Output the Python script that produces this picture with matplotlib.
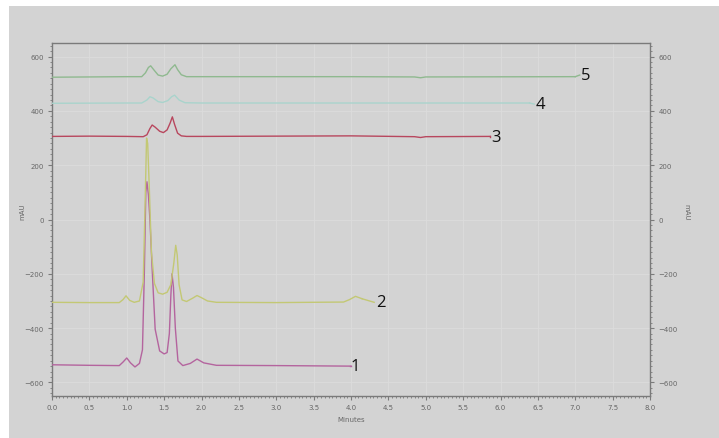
import numpy as np
import matplotlib.pyplot as plt
from matplotlib.ticker import MultipleLocator
from matplotlib.patches import Rectangle

# DATA (minutes vs mAU)
t1 = [0.0, 0.5, 0.9, 0.95, 1.0, 1.05, 1.11, 1.17, 1.21, 1.235, 1.255, 1.27, 1.29, 1.31,
      1.34, 1.38, 1.44, 1.50, 1.54, 1.57, 1.59, 1.605, 1.625, 1.65, 1.685, 1.75, 1.85,
      1.94, 2.03, 2.2, 3.0, 4.0]
v1 = [-535, -537, -538, -525, -510, -528, -543, -530, -480, -200, 100, 139, 90, 0,
      -183, -404, -484, -495, -490, -420, -280, -200, -250, -400, -521, -538, -530,
      -514, -528, -537, -538, -540]

t2 = [0.0, 0.5, 0.9, 0.95, 0.99, 1.04, 1.10, 1.17, 1.22, 1.245, 1.265, 1.28, 1.30, 1.33,
      1.37, 1.42, 1.48, 1.54, 1.59, 1.63, 1.655, 1.675, 1.70, 1.74, 1.80, 1.88, 1.94,
      2.0, 2.08, 2.2, 3.0, 3.9, 3.98, 4.06, 4.15]
v2 = [-305, -306, -306, -295, -281, -298, -305, -300, -230, 50, 300, 280, 130, -120,
      -235, -270, -275, -268, -240, -160, -95, -130, -240, -296, -302, -290, -280,
      -288, -300, -305, -306, -304, -295, -283, -292]

t3 = [0.0, 0.5, 1.0, 1.22, 1.27, 1.31, 1.34, 1.38, 1.44, 1.49, 1.54, 1.58, 1.61, 1.64,
      1.68, 1.73, 1.8, 2.0, 3.0, 4.0, 4.85, 4.93, 5.0, 5.86]
v3 = [306, 307, 306, 305, 312, 335, 348, 340, 325, 320, 330, 355, 378, 350,
      318, 308, 306, 306, 307, 308, 305, 302, 305, 306]

t4 = [0.0, 1.0, 1.2, 1.27, 1.31, 1.35, 1.42, 1.48, 1.55, 1.60, 1.64, 1.70, 1.78, 2.0,
      4.0, 6.39]
v4 = [428, 429, 429, 440, 452, 448, 434, 431, 438, 452, 458, 440, 430, 429,
      429, 429]

t5 = [0.0, 1.0, 1.2, 1.25, 1.29, 1.32, 1.36, 1.42, 1.48, 1.54, 1.59, 1.645, 1.68, 1.73,
      1.8, 2.0, 4.0, 4.85, 4.93, 5.0, 7.0]
v5 = [524, 526, 526, 540, 560, 566, 552, 532, 528, 535, 555, 570, 552, 533,
      526, 526, 526, 525, 522, 525, 526]

labels = ['1', '2', '3', '4', '5']
colors = ['#b4649e', '#c3c874', '#b8475e', '#a9d3cc', '#8fb98f']
# where each number sits (minutes, mAU)
label_t = [4.0, 4.33, 5.88, 6.47, 7.08]
label_v = [-540, -305, 305, 425, 532]

bg = '#d3d3d3'
fig = plt.figure(figsize=(7.19, 4.39), dpi=100, facecolor='white')
fig.patches.append(Rectangle((9 / 719, 0), 1, 1 - 7 / 439, transform=fig.transFigure,
                             facecolor=bg, edgecolor='none', zorder=-10))
ax = fig.add_axes([52 / 719, 1 - 397 / 439, 598 / 719, 353 / 439])
ax.set_facecolor(bg)

series = [(t1, v1), (t2, v2), (t3, v3), (t4, v4), (t5, v5)]
for (t, v), c, lab, lt, lv in zip(series, colors, labels, label_t, label_v):
    ax.plot(t, v, color=c, lw=1.0, zorder=3, solid_joinstyle='round')
    # leader line from trace end to its number
    ax.plot([t[-1], lt - 0.02], [v[-1], lv], color=c, lw=1.0, zorder=3)
    ax.text(lt, lv, lab, fontsize=12, family='Open Sans', color='#111111',
            ha='left', va='center')

ax.set_xlim(0, 8)
ax.set_ylim(-650, 650)
ax.xaxis.set_major_locator(MultipleLocator(0.5))
ax.xaxis.set_minor_locator(MultipleLocator(0.05))
ax.yaxis.set_major_locator(MultipleLocator(200))
ax.yaxis.set_minor_locator(MultipleLocator(20))
ax.xaxis.set_major_formatter(plt.FuncFormatter(lambda x, p: f'{x:.1f}'))

ax.grid(True, which='major', color='#dcdcdc', lw=0.6, zorder=0)
for s in ax.spines.values():
    s.set_color('#7a7a7a')
    s.set_linewidth(1.0)

ax.tick_params(which='both', direction='out', colors='#7a7a7a', labelsize=5,
               labelcolor='#666666', right=True, labelright=True)
ax.tick_params(which='major', length=3, pad=3)
ax.tick_params(which='minor', length=1.5)

ax.set_xlabel('Minutes', fontsize=5, color='#666666', labelpad=4)
fig.text(22 / 719, 1 - 212 / 439, 'mAU', fontsize=5, color='#666666',
         rotation=90, ha='center', va='center')
fig.text(686 / 719, 1 - 212 / 439, 'mAU', fontsize=5, color='#666666',
         rotation=-90, ha='center', va='center')

fig.savefig('out.png', dpi=100, facecolor=fig.get_facecolor())
